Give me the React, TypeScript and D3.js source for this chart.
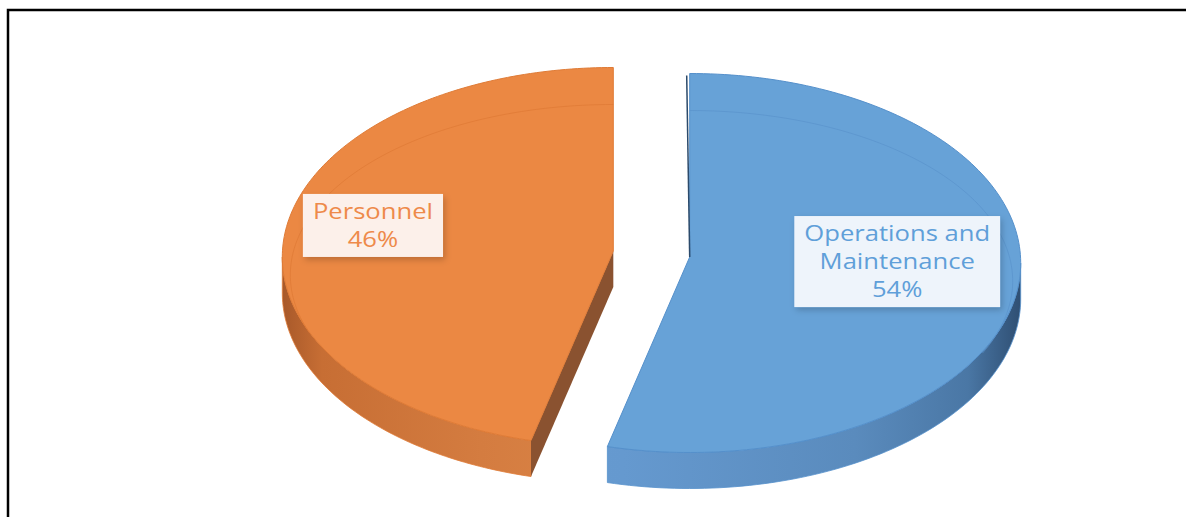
import React, { useEffect, useRef } from "react";
import * as d3 from "d3";

// slice data, clockwise from 12 o'clock
const categories = ["Operations and Maintenance", "Personnel"];
const shares = [54, 46];
const labelLines = [["Operations and", "Maintenance"], ["Personnel"]];

const W = 1186;
const H = 517;

// 3d pie geometry (projected ellipse)
const cx0 = 651.5;
const cy0 = 260;
const rx = 331;
const ry = 189.5;
const depth = 36;
const apexLift = 6;
const explodeX = 38.5;
const explodeY = 24;

const topFill = ["#67a2d7", "#eb8843"];
const topEdge = ["#5590cb", "#df7b36"];
const ringStroke = ["#5a93cc", "#de7934"];
const cutFill = ["#3d6690", "#8a5230"];
const textFill = ["#5f9fd9", "#ee8a4a"];
const boxFill = ["#eef4fb", "#fcf0ea"];
const wallStops = [
  [
    [0, "#6a9fd4"],
    [0.4, "#6599cf"],
    [0.75, "#5a8bbd"],
    [0.92, "#4a77a5"],
    [1, "#2f4f73"],
  ],
  [
    [0, "#a8592a"],
    [0.06, "#c76e34"],
    [0.3, "#d47c40"],
    [0.5, "#db8446"],
    [1, "#db8446"],
  ],
];

const fontSize = 21;
const stretch = 1.22;
const lineH = 28;

export default function App() {
  const ref = useRef<SVGSVGElement>(null);

  useEffect(() => {
    const svg = d3.select(ref.current);
    svg.selectAll("*").remove();

    const defs = svg.append("defs");
    const shadow = defs
      .append("filter")
      .attr("id", "lblShadow")
      .attr("x", "-20%")
      .attr("y", "-30%")
      .attr("width", "140%")
      .attr("height", "160%");
    shadow
      .append("feDropShadow")
      .attr("dx", 2)
      .attr("dy", 3)
      .attr("stdDeviation", 3)
      .attr("flood-color", "#000")
      .attr("flood-opacity", 0.2);

    const arcs = d3
      .pie<number>()
      .sort(null)
      .startAngle(0)
      .endAngle(2 * Math.PI)(shares);

    const line = d3.line();
    const steps = (a: number, b: number, n = 80) =>
      d3.range(n + 1).map((i) => a + ((b - a) * i) / n);

    const slices = arcs.map((a, i) => {
      const mid = (a.startAngle + a.endAngle) / 2;
      const ccx = cx0 + explodeX * Math.sin(mid);
      const ccy = cy0 - explodeY * Math.cos(mid);
      const rim = (t: number, dy = 0): [number, number] => [
        ccx + rx * Math.sin(t),
        ccy - ry * Math.cos(t) + dy,
      ];
      return { a, i, mid, ccx, ccy, rim };
    });

    const pieG = svg.append("g");

    slices.forEach(({ a, i, ccx, ccy, rim }) => {
      const g = pieG.append("g");
      const apex: [number, number] = [ccx, ccy - apexLift];

      const grad = defs
        .append("linearGradient")
        .attr("id", "wall" + i)
        .attr("gradientUnits", "userSpaceOnUse")
        .attr("x1", ccx - rx)
        .attr("x2", ccx + rx)
        .attr("y1", 0)
        .attr("y2", 0);
      wallStops[i].forEach(([o, c]) =>
        grad.append("stop").attr("offset", o as number).attr("stop-color", c as string)
      );

      // outer wall, front half only
      const w0 = Math.max(a.startAngle, Math.PI / 2);
      const w1 = Math.min(a.endAngle, (3 * Math.PI) / 2);
      if (w1 > w0) {
        const ts = steps(w0, w1);
        const pts = [
          ...ts.map((t) => rim(t)),
          ...ts.slice().reverse().map((t) => rim(t, depth)),
        ];
        g.append("path")
          .attr("d", line(pts) + "Z")
          .attr("fill", `url(#wall${i})`)
          .attr("stroke", topEdge[i])
          .attr("stroke-width", 0.8);
      }

      // radial cut face facing the viewer (start edge)
      const s = a.startAngle;
      if (Math.cos(s) < 0 && s > 0) {
        const p = rim(s);
        const face: [number, number][] = [
          apex,
          p,
          [p[0], p[1] + depth],
          [apex[0], apex[1] + depth],
        ];
        g.append("path").attr("d", line(face) + "Z").attr("fill", cutFill[i]);
      }

      // top face
      const top = [apex, ...steps(a.startAngle, a.endAngle, 160).map((t) => rim(t))];
      g.append("path")
        .attr("d", line(top) + "Z")
        .attr("fill", topFill[i])
        .attr("stroke", topEdge[i])
        .attr("stroke-width", 1);

      // soft bevel ring
      const r0 = Math.max(a.startAngle, (250 / 180) * Math.PI * (a.startAngle > Math.PI ? 1 : 0));
      const r1 = Math.min(a.endAngle, a.startAngle < 0.1 ? (115 / 180) * Math.PI : a.endAngle);
      const ring = steps(r0, r1).map((t): [number, number] => [
        ccx + (rx - 8) * Math.sin(t),
        ccy + 18 - (ry - 19) * Math.cos(t),
      ]);
      g.append("path")
        .attr("d", line(ring))
        .attr("fill", "none")
        .attr("stroke", ringStroke[i])
        .attr("stroke-width", 1)
        .attr("opacity", 0.7);

      // edge-on face at 12 o'clock
      if (a.startAngle === 0) {
        const tp = rim(0);
        g.append("line")
          .attr("x1", tp[0] - 3)
          .attr("y1", tp[1] + 2)
          .attr("x2", apex[0])
          .attr("y2", apex[1])
          .attr("stroke", "#2b4a6b")
          .attr("stroke-width", 1.5);
      }
    });

    // data labels
    slices.forEach(({ a, i, mid, ccx, ccy }) => {
      const lines = [...labelLines[i], d3.format(".0f")(a.data) + "%"];
      const lg = svg.append("g");
      const tg = lg.append("g").attr("transform", `scale(${stretch},1)`);
      let maxW = 0;
      lines.forEach((txt, k) => {
        const t = tg
          .append("text")
          .attr("x", 0)
          .attr("y", 25 + k * lineH)
          .attr("text-anchor", "middle")
          .attr("font-family", "'Open Sans', 'Noto Sans', sans-serif")
          .attr("font-size", fontSize)
          .attr("font-weight", 500)
          .attr("fill", textFill[i])
          .text(txt);
        const n = (t.node() as SVGTextElement).getComputedTextLength();
        maxW = Math.max(maxW, n);
      });
      const bw = maxW * stretch + 20;
      const bh = lines.length * lineH + 7;
      lg.insert("rect", "g")
        .attr("x", -bw / 2)
        .attr("y", 0)
        .attr("width", bw)
        .attr("height", bh)
        .attr("fill", boxFill[i])
        .attr("filter", "url(#lblShadow)");

      const sgn = Math.sign(Math.sin(mid));
      const rimX = ccx + rx * Math.sin(mid);
      const bx = rimX - sgn * (18 + bw / 2);
      const by = ccy - ry * Math.cos(mid) * 0.633 - 16.5;
      lg.attr("transform", `translate(${bx},${by - bh / 2})`).attr("aria-label", categories[i]);
    });

    // chart frame
    svg
      .append("rect")
      .attr("x", 8)
      .attr("y", 10)
      .attr("width", W + 40)
      .attr("height", H + 40)
      .attr("fill", "none")
      .attr("stroke", "#000")
      .attr("stroke-width", 2.5);
  }, []);

  return (
    <svg
      ref={ref}
      width={W}
      height={H}
      style={{ position: "absolute", left: 0, top: 0, display: "block", background: "#fff" }}
    />
  );
}
